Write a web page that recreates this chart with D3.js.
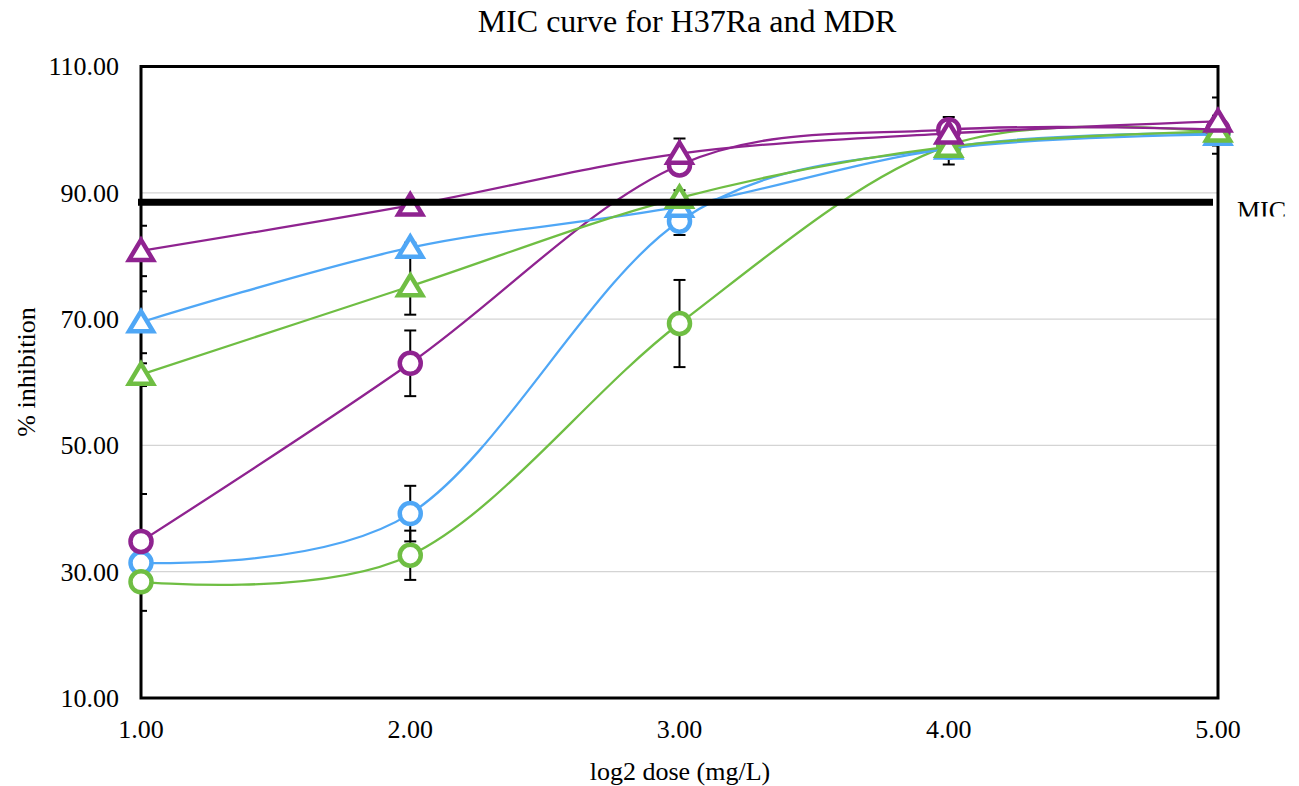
<!DOCTYPE html>
<html>
<head>
<meta charset="utf-8">
<script src="https://cdn.jsdelivr.net/npm/d3@7"></script>
<style>
  body { margin: 0; background: #fff; }
  svg text { font-family: "Liberation Serif", "Times New Roman", serif; fill: #000; }
</style>
</head>
<body>
<div id="chart"></div>
<script>
// dose values (log2 mg/L)
const doses = [1, 2, 3, 4, 5];
const yTicks = [10, 30, 50, 70, 90, 110];
const micValue = 88.5;

// mean % inhibition
const purpleCircle = [34.8, 63.0, 94.4, 100.0, 100.0];
const blueCircle   = [31.4, 39.2, 85.5, 97.2, 99.5];
const greenCircle  = [28.4, 32.6, 69.3, 97.5, 99.6];
const purpleTri    = [80.8, 88.0, 96.2, 99.4, 101.3];
const blueTri      = [69.5, 81.3, 87.8, 97.0, 99.2];
const greenTri     = [61.2, 75.2, 89.2, 97.3, 99.7];

// error (+/-)
const purpleCircleErr = [7.5, 5.2, 1.5, 2.0, 1.0];
const blueCircleErr   = [1.0, 4.4, 2.2, 1.0, 1.0];
const greenCircleErr  = [4.6, 3.9, 6.9, 1.0, 1.0];
const purpleTriErr    = [4.0, 0.8, 2.4, 1.0, 3.8];
const blueTriErr      = [4.9, 0.8, 1.0, 2.5, 3.0];
const greenTriErr     = [1.8, 4.5, 1.2, 1.0, 1.0];

const PURPLE = "#8f2390", BLUE = "#4fa7f6", GREEN = "#6fbe43";

const series = [
    {values: blueCircle,   err: blueCircleErr,   color: BLUE,   shape: "circle"},
    {values: greenCircle,  err: greenCircleErr,  color: GREEN,  shape: "circle"},
    {values: purpleCircle, err: purpleCircleErr, color: PURPLE, shape: "circle"},
    {values: blueTri,      err: blueTriErr,      color: BLUE,   shape: "triangle"},
    {values: greenTri,     err: greenTriErr,     color: GREEN,  shape: "triangle"},
    {values: purpleTri,    err: purpleTriErr,    color: PURPLE, shape: "triangle"}
];

const W = 1299, H = 786;
const plot = {left: 141, right: 1218, top: 66.5, bottom: 698};

const svg = d3.select("#chart").append("svg")
    .attr("width", W)
    .attr("height", H);

const x = d3.scaleLinear().domain([1, 5]).range([plot.left, plot.right]);
const y = d3.scaleLinear().domain([10, 110]).range([plot.bottom, plot.top]);

svg.append("defs").append("clipPath").attr("id", "plotClip")
    .append("rect")
    .attr("x", plot.left).attr("y", plot.top)
    .attr("width", plot.right - plot.left).attr("height", plot.bottom - plot.top);

svg.select("defs").append("clipPath").attr("id", "micClip")
    .append("rect")
    .attr("x", 1225).attr("y", 190).attr("width", 80).attr("height", 26.5);

// gridlines
svg.append("g")
    .selectAll("line")
    .data(yTicks)
    .enter().append("line")
    .attr("x1", plot.left).attr("x2", plot.right)
    .attr("y1", d => y(d)).attr("y2", d => y(d))
    .attr("stroke", "#d4d4d4")
    .attr("stroke-width", 1.2);

// y tick labels
svg.append("g")
    .selectAll("text")
    .data(yTicks)
    .enter().append("text")
    .attr("x", 119)
    .attr("y", d => y(d))
    .attr("dy", "0.34em")
    .attr("text-anchor", "end")
    .attr("font-size", "26px")
    .text(d => d.toFixed(2));

// x tick labels
svg.append("g")
    .selectAll("text")
    .data(doses)
    .enter().append("text")
    .attr("x", d => x(d))
    .attr("y", 738)
    .attr("text-anchor", "middle")
    .attr("font-size", "26px")
    .text(d => d.toFixed(2));

// frame
svg.append("rect")
    .attr("x", plot.left).attr("y", plot.top)
    .attr("width", plot.right - plot.left).attr("height", plot.bottom - plot.top)
    .attr("fill", "none")
    .attr("stroke", "#000")
    .attr("stroke-width", 3);

// error bars, clipped to the plot area
const errG = svg.append("g").attr("clip-path", "url(#plotClip)");
series.forEach(s => {
    s.values.forEach((v, i) => {
        const cx = x(doses[i]);
        const y1 = y(v + s.err[i]), y2 = y(v - s.err[i]);
        errG.append("line")
            .attr("x1", cx).attr("x2", cx).attr("y1", y1).attr("y2", y2)
            .attr("stroke", "#000").attr("stroke-width", 2);
        [y1, y2].forEach(yy => {
            errG.append("line")
                .attr("x1", cx - 6).attr("x2", cx + 6).attr("y1", yy).attr("y2", yy)
                .attr("stroke", "#000").attr("stroke-width", 2);
        });
    });
});

// smoothed lines + markers
const line = d3.line()
    .x((d, i) => x(doses[i]))
    .y(d => y(d))
    .curve(d3.curveCardinal.tension(0));

const triPath = "M0,-11 L12,9 L-12,9 Z";

series.forEach(s => {
    let g = svg.append("g");
    g.append("path")
        .attr("d", line(s.values))
        .attr("fill", "none")
        .attr("stroke", s.color)
        .attr("stroke-width", 2.3);

    s.values.forEach((v, i) => {
        if (s.shape === "circle") {
            g.append("circle")
                .attr("cx", x(doses[i])).attr("cy", y(v))
                .attr("r", 10.5)
                .attr("fill", "#fff")
                .attr("stroke", s.color)
                .attr("stroke-width", 4.5);
        } else {
            g.append("path")
                .attr("d", triPath)
                .attr("transform", `translate(${x(doses[i])},${y(v)})`)
                .attr("fill", "#fff")
                .attr("stroke", s.color)
                .attr("stroke-width", 4.5)
                .attr("stroke-linejoin", "miter");
        }
    });
});

// MIC line
svg.append("line")
    .attr("x1", 138).attr("x2", 1213)
    .attr("y1", y(micValue)).attr("y2", y(micValue))
    .attr("stroke", "#000")
    .attr("stroke-width", 7);

svg.append("text")
    .attr("x", 1237)
    .attr("y", 219)
    .attr("font-size", "26px")
    .attr("clip-path", "url(#micClip)")
    .text("MIC");

// titles
svg.append("text")
    .attr("x", 687).attr("y", 32)
    .attr("text-anchor", "middle")
    .attr("font-size", "32px")
    .text("MIC curve for H37Ra and MDR");

svg.append("text")
    .attr("x", 680).attr("y", 780)
    .attr("text-anchor", "middle")
    .attr("font-size", "26px")
    .text("log2 dose (mg/L)");

svg.append("text")
    .attr("transform", "translate(35,372) rotate(-90)")
    .attr("text-anchor", "middle")
    .attr("font-size", "26px")
    .text("% inhibition");
</script>
</body>
</html>
